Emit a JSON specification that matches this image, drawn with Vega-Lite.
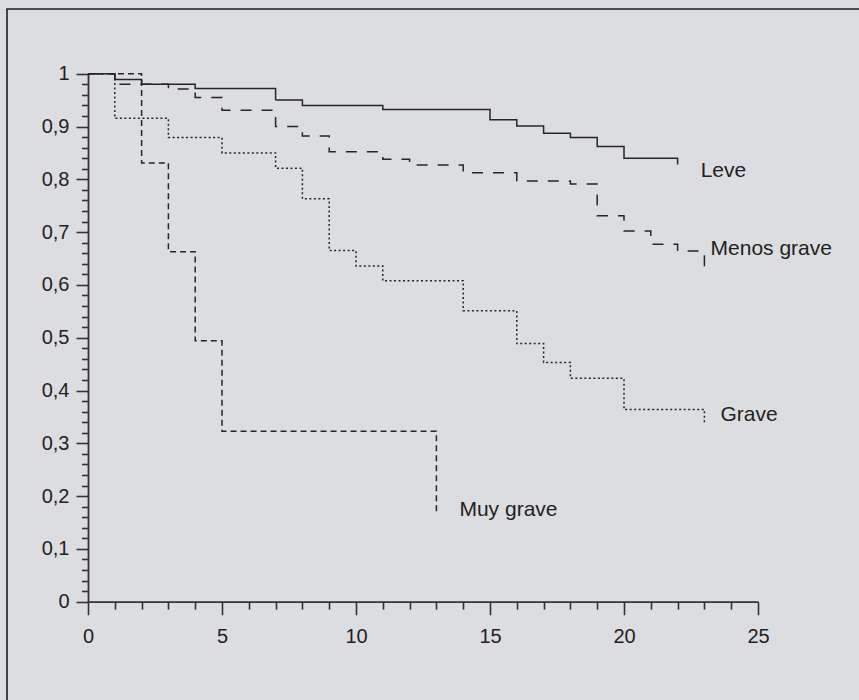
{
  "$schema": "https://vega.github.io/schema/vega-lite/v6.json",
  "width": 860,
  "height": 700,
  "autosize": {"type": "none"},
  "padding": {"left": 7, "top": 9, "right": 0, "bottom": 0},
  "background": "#dcdde0",
  "view": {"stroke": "#1e1e1e", "strokeWidth": 1.6, "fill": "#dcdde0"},
  "config": {
    "axis": {
      "grid": false,
      "title": null,
      "labelFont": "Liberation Sans",
      "labelFontSize": 20,
      "labelColor": "#222222",
      "domainColor": "#333333",
      "tickColor": "#333333",
      "domainWidth": 1.8,
      "tickWidth": 1.6,
      "labelOverlap": false,
      "labelFlush": false,
      "labelAngle": 0
    }
  },
  "datasets": {
    "curves": [
      {"serie": "Leve", "t": 0, "s": 1},
      {"serie": "Leve", "t": 1, "s": 0.989},
      {"serie": "Leve", "t": 2, "s": 0.980},
      {"serie": "Leve", "t": 4, "s": 0.972},
      {"serie": "Leve", "t": 7, "s": 0.950},
      {"serie": "Leve", "t": 8, "s": 0.940},
      {"serie": "Leve", "t": 11, "s": 0.932},
      {"serie": "Leve", "t": 15, "s": 0.913},
      {"serie": "Leve", "t": 16, "s": 0.901},
      {"serie": "Leve", "t": 17, "s": 0.887},
      {"serie": "Leve", "t": 18, "s": 0.879},
      {"serie": "Leve", "t": 19, "s": 0.862},
      {"serie": "Leve", "t": 20, "s": 0.840},
      {"serie": "Leve", "t": 22, "s": 0.828},
      {"serie": "Menos grave", "t": 0, "s": 1},
      {"serie": "Menos grave", "t": 1, "s": 0.980},
      {"serie": "Menos grave", "t": 3, "s": 0.971},
      {"serie": "Menos grave", "t": 4, "s": 0.955},
      {"serie": "Menos grave", "t": 5, "s": 0.931},
      {"serie": "Menos grave", "t": 7, "s": 0.900},
      {"serie": "Menos grave", "t": 8, "s": 0.882},
      {"serie": "Menos grave", "t": 9, "s": 0.852},
      {"serie": "Menos grave", "t": 11, "s": 0.838},
      {"serie": "Menos grave", "t": 12, "s": 0.827},
      {"serie": "Menos grave", "t": 14, "s": 0.8125},
      {"serie": "Menos grave", "t": 16, "s": 0.797},
      {"serie": "Menos grave", "t": 18, "s": 0.791},
      {"serie": "Menos grave", "t": 19, "s": 0.731},
      {"serie": "Menos grave", "t": 20, "s": 0.702},
      {"serie": "Menos grave", "t": 21, "s": 0.677},
      {"serie": "Menos grave", "t": 22, "s": 0.664},
      {"serie": "Menos grave", "t": 23, "s": 0.625},
      {"serie": "Grave", "t": 0, "s": 1},
      {"serie": "Grave", "t": 1, "s": 0.9155},
      {"serie": "Grave", "t": 3, "s": 0.879},
      {"serie": "Grave", "t": 5, "s": 0.850},
      {"serie": "Grave", "t": 7, "s": 0.821},
      {"serie": "Grave", "t": 8, "s": 0.763},
      {"serie": "Grave", "t": 9, "s": 0.665},
      {"serie": "Grave", "t": 10, "s": 0.636},
      {"serie": "Grave", "t": 11, "s": 0.608},
      {"serie": "Grave", "t": 14, "s": 0.551},
      {"serie": "Grave", "t": 16, "s": 0.489},
      {"serie": "Grave", "t": 17, "s": 0.453},
      {"serie": "Grave", "t": 18, "s": 0.423},
      {"serie": "Grave", "t": 20, "s": 0.364},
      {"serie": "Grave", "t": 23, "s": 0.338},
      {"serie": "Muy grave", "t": 0, "s": 1},
      {"serie": "Muy grave", "t": 2, "s": 0.831},
      {"serie": "Muy grave", "t": 3, "s": 0.663},
      {"serie": "Muy grave", "t": 4, "s": 0.494},
      {"serie": "Muy grave", "t": 5, "s": 0.323},
      {"serie": "Muy grave", "t": 13, "s": 0.1655}
    ],
    "labels": [
      {"label": "Leve", "t": 22.86, "s": 0.816},
      {"label": "Menos grave", "t": 23.23, "s": 0.668},
      {"label": "Grave", "t": 23.6, "s": 0.354},
      {"label": "Muy grave", "t": 13.86, "s": 0.173}
    ]
  },
  "layer": [
    {
      "data": {"name": "curves"},
      "mark": {"type": "line", "interpolate": "step-after", "strokeWidth": 1.5, "color": "#262626"},
      "encoding": {
        "x": {
          "field": "t",
          "type": "quantitative",
          "scale": {"domain": [0, 25], "range": [81, 751], "nice": false, "zero": false},
          "axis": {
            "tickCount": 25,
            "offset": -107.3,
            "labelExpr": "datum.value % 5 === 0 ? datum.label : ''",
            "tickSize": {"condition": {"test": "datum.value % 5 === 0", "value": 13}, "value": 7.5},
            "labelPadding": 12
          }
        },
        "y": {
          "field": "s",
          "type": "quantitative",
          "scale": {"domain": [0, 1], "range": [592.7, 64.7], "nice": false},
          "axis": {
            "tickCount": 50,
            "offset": -81,
            "labelExpr": "round(datum.value * 100) % 10 === 0 ? replace(format(datum.value, '.1~f'), '.', ',') : ''",
            "tickSize": {"condition": {"test": "round(datum.value * 100) % 10 === 0", "value": 12}, "value": 6.5},
            "labelPadding": 7
          }
        },
        "strokeDash": {
          "field": "serie",
          "type": "nominal",
          "scale": {
            "domain": ["Leve", "Menos grave", "Grave", "Muy grave"],
            "range": [[1, 0], [11, 10], [2, 2.5], [6, 4]]
          },
          "legend": null
        }
      }
    },
    {
      "data": {"name": "labels"},
      "mark": {"type": "text", "align": "left", "baseline": "middle", "fontSize": 21, "font": "Liberation Sans", "color": "#222222"},
      "encoding": {
        "x": {"field": "t", "type": "quantitative"},
        "y": {"field": "s", "type": "quantitative"},
        "text": {"field": "label"}
      }
    }
  ]
}
